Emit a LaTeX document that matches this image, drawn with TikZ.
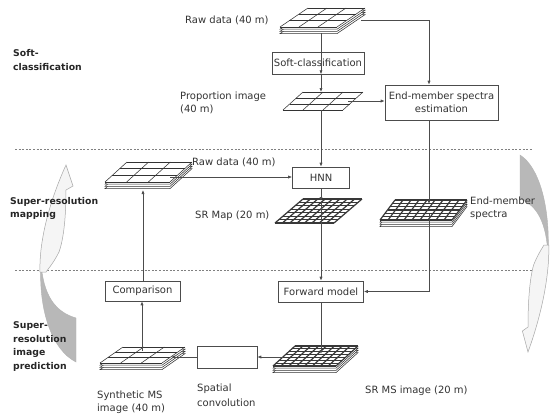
\documentclass[tikz,border=0pt]{standalone}
\usepackage{fontspec}
\setmainfont{DejaVu Sans}
\usetikzlibrary{arrows.meta}
\tikzset{
  box/.style={draw=black!70, line width=0.6pt, fill=white, inner sep=1pt, align=center,
    font=\fontsize{10}{13}\selectfont, text=black!80},
  lbl/.style={font=\fontsize{10}{13}\selectfont, text=black!80, inner sep=0pt, align=left},
  blbl/.style={font=\bfseries\fontsize{9.3}{14}\selectfont, text=black!85, inner sep=0pt, align=left},
  conn/.style={draw=black!70, line width=0.7pt},
  arr/.style={conn, -{Latex[length=4pt,width=3.2pt]}},
  sep/.style={draw=black!50, line width=0.5pt, dash pattern=on 2pt off 1.6pt},
  coarse/.style={draw=black!80, line width=0.55pt},
  fine/.style={draw=black!78, line width=1.2pt},
  layer/.style={draw=black!80, line width=0.55pt, fill=white},
  darkarr/.style={fill=black!28, draw=black!30, line width=0.4pt},
  lightarr/.style={fill=black!4, draw=black!35, line width=0.5pt},
}
% plane: x y w dx h nx ny style
\newcommand\gplane[8]{%
  \fill[white] (#1,#2) -- ++(#3,0) -- ++(-#4,#5) -- ++(-#3,0) -- cycle;
  \foreach \k in {0,...,#7}{\draw[#8] ({#1-#4*\k/#7},{#2+#5*\k/#7}) -- ++(#3,0);}
  \foreach \k in {0,...,#6}{\draw[#8] ({#1+#3*\k/#6},#2) -- ++(-#4,#5);}
}
% stack: x y w dx h nx ny style layers
\newcommand\gstack[9]{%
  \foreach \j in {#9,...,1}{\filldraw[layer] (#1,{#2+2.2*\j}) -- ++(#3,0) -- ++(-#4,#5) -- ++(-#3,0) -- cycle;}
  \gplane{#1}{#2}{#3}{#4}{#5}{#6}{#7}{#8}
}
\newcommand\curvedpair{%
  \filldraw[darkarr] (41,262) .. controls (43,295) and (55,312) .. (76,318) -- (76,362)
    .. controls (52,350) and (38,310) .. (41,262) -- cycle;
  \filldraw[lightarr] (40,272) .. controls (39,240) and (50,200) .. (66,165) -- (73,186) -- (66,190)
    .. controls (66,215) and (64,238) .. (59,252) .. controls (54,262) and (49,268) .. (46,272) -- cycle;
}
\begin{document}
\begin{tikzpicture}[x=1pt,y=-1pt]
\useasboundingbox (0,0) rectangle (550,418);
\fill[white] (0,0) rectangle (550,418);

% separators
\draw[sep] (15,149) -- (532,149);
\draw[sep] (15,270) -- (532,270);

% curved arrows
\curvedpair
\begin{scope}[shift={(580.8,517)}, xscale=-0.8, yscale=-1]
  \curvedpair
\end{scope}

% image planes
\gstack{308}{8}{57}{28}{19}{3}{3}{coarse}{3}
\gplane{303}{92}{60}{20}{18}{3}{3}{coarse}
\gstack{127}{162}{65}{22}{20}{3}{3}{coarse}{3}
\gplane{303}{199}{59}{28}{24}{8}{7}{fine}
\gstack{395}{200}{72}{15}{20}{9}{6}{fine}{3}
\gstack{123}{347}{62}{23}{16}{3}{3}{coarse}{3}
\gstack{295}{346}{63}{22}{20}{8}{7}{fine}{3}

% named points on the planes
\coordinate (rawTb) at (321,33);
\coordinate (rawTr) at (361,20);
\coordinate (eX) at (429,0);
\coordinate (propT) at (321,92);
\coordinate (propB) at (321,110);
\coordinate (propR) at (348,101);
\coordinate (rawMr) at (170,177);
\coordinate (rawMb) at (143,190);
\coordinate (srT) at (321,201);
\coordinate (emT) at (429,204);
\coordinate (emB) at (429,214);
\coordinate (srmsC) at (321,354);
\coordinate (srmsL) at (283,357);
\coordinate (synR) at (171,357);
\coordinate (synT) at (142,351);

% boxes
\node[box, minimum width=92pt, minimum height=22pt] (soft) at (318,63) {Soft-classification};
\node[box, minimum width=113pt, minimum height=35pt] (endb) at (441.5,102.5) {End-member spectra\\estimation};
\node[box, minimum width=57pt, minimum height=21pt] (hnn) at (321,177.5) {HNN};
\node[box, minimum width=85pt, minimum height=21pt] (fwd) at (321,291.5) {Forward model};
\node[box, minimum width=75pt, minimum height=20pt] (cmp) at (142.5,291) {Comparison};
\node[box, minimum width=60pt, minimum height=22pt] (spc) at (227,357) {};

% connectors
\draw[arr] (rawTb) -- (soft.south -| rawTb) ;
\draw[arr] (rawTb |- soft.south) -- (propT);
\draw[arr] (rawTr) -| (endb.north -| eX);
\draw[arr] (propR) -- (propR -| endb.west);
\draw[arr] (propB) -- (hnn.north -| propB);
\draw[arr] (rawMr) -- (rawMr -| hnn.west);
\draw[arr] (hnn.south -| srT) -- (srT);
\draw[arr] (srT) -- (fwd.north -| srT);
\draw[arr] (endb.south -| eX) -- (emT);
\draw[arr] (emB) |- (fwd.east);
\draw[arr] (fwd.south -| srmsC) -- (srmsC);
\draw[arr] (srmsL) -- (spc.east);
\draw[arr] (spc.west) -- (synR);
\draw[arr] (synT) -- (cmp.south -| synT);
\draw[arr] (cmp.north -| rawMb) -- (rawMb);

% labels
\node[lbl, anchor=west] (tRaw1) at (185,20) {Raw data (40 m)};
\node[lbl, anchor=west] (tProp) at (180,103) {Proportion image\\(40 m)};
\node[lbl, anchor=west] (tRaw2) at (192,162) {Raw data (40 m)};
\node[lbl, anchor=west] (tSR) at (195,216) {SR Map (20 m)};
\node[lbl, anchor=west] (tEM) at (470,208) {End-member\\spectra};
\node[lbl, anchor=west] (tSyn) at (97,402) {Synthetic MS\\image (40 m)};
\node[lbl, anchor=west, font=\fontsize{10}{15}\selectfont] (tSpc) at (197,395) {Spatial\\convolution};
\node[lbl, anchor=west] (tSRMS) at (365,391) {SR MS image (20 m)};

\node[blbl, anchor=west] (lSoft) at (13,60.5) {Soft-\\classification};
\node[blbl, anchor=west, font=\bfseries\fontsize{9.3}{13}\selectfont] (lMap) at (10,208.5) {Super-resolution\\mapping};
\node[blbl, anchor=west, font=\bfseries\fontsize{9.3}{13.7}\selectfont] (lPred) at (13,346.5) {Super-\\resolution\\image\\prediction};
\end{tikzpicture}
\end{document}
